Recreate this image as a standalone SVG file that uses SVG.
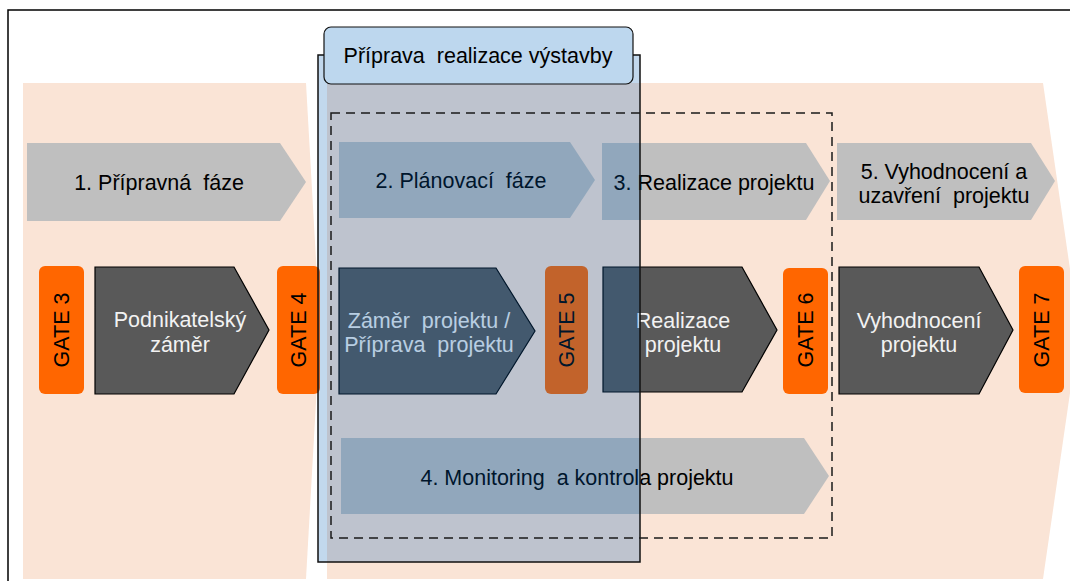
<svg xmlns="http://www.w3.org/2000/svg" width="1070" height="581" viewBox="0 0 1070 581">
<style>
text{font-family:"Liberation Sans",Arial,sans-serif;font-size:21.5px;text-anchor:middle;white-space:pre}
.phase{fill:#bfbfbf}
.gate{fill:#ff6600}
.step{fill:#595959;stroke:#000;stroke-width:1.2}
.dk{fill:#000}
.lt{fill:#f2f2f2}
</style>
<rect x="0" y="0" width="1070" height="581" fill="#fff"/>
<rect x="8" y="10" width="1080" height="600" fill="none" stroke="#000" stroke-width="1.5"/>
<g id="background">
<polygon points="23,83 306,83 320,331 306,579 23,579" fill="#fae4d6"/>
<polygon points="327,83 1043,83 1079,331 1043,579 327,579" fill="#fae4d6"/>
</g>
<g id="phase1"><polygon class="phase" points="27,143 280,143 306,182 280,221 27,221"/><text class="dk" x="159" y="190" xml:space="preserve">1. Přípravná  fáze</text></g>
<g id="phase2"><polygon class="phase" points="339,142 570,142 595,180 570,218 339,218"/><text class="dk" x="461" y="188" xml:space="preserve">2. Plánovací  fáze</text></g>
<g id="phase3"><polygon class="phase" points="602,143 806,143 830,181 806,220 602,220"/><text class="dk" x="714" y="190">3. Realizace projektu</text></g>
<g id="phase5"><polygon class="phase" points="837,143 1031,143 1055,181 1031,220 837,220"/><text class="dk" x="944" y="179">5. Vyhodnocení a</text><text class="dk" x="944" y="203" xml:space="preserve">uzavření  projektu</text></g>
<g id="phase4"><polygon class="phase" points="341,438 804,438 829,476 804,514 341,514"/><text class="dk" x="577" y="485" xml:space="preserve">4. Monitoring  a kontrola projektu</text></g>
<g id="gate3"><rect class="gate" x="39" y="266" width="45" height="128" rx="6"/><text class="dk" transform="translate(69,330) rotate(-90)">GATE 3</text></g>
<g id="gate4"><rect class="gate" x="277" y="266" width="43" height="128" rx="6"/><text class="dk" transform="translate(306,330) rotate(-90)">GATE 4</text></g>
<g id="gate5"><rect class="gate" x="545" y="266" width="43" height="128" rx="6"/><text class="dk" transform="translate(574,330) rotate(-90)">GATE 5</text></g>
<g id="gate6"><rect class="gate" x="783" y="268" width="45" height="126" rx="6"/><text class="dk" transform="translate(813,330) rotate(-90)">GATE 6</text></g>
<g id="gate7"><rect class="gate" x="1019" y="266" width="45" height="127" rx="6"/><text class="dk" transform="translate(1049,330) rotate(-90)">GATE 7</text></g>
<g id="step1"><polygon class="step" points="95,267 234,267 269,330 234,394 95,394"/><text class="lt" x="180" y="327">Podnikatelský</text><text class="lt" x="180" y="352">záměr</text></g>
<g id="step2"><polygon class="step" points="339,268 496,268 535,331 496,394 339,394"/><text class="lt" x="429" y="328" xml:space="preserve">Záměr  projektu /</text><text class="lt" x="429" y="352" xml:space="preserve">Příprava  projektu</text></g>
<g id="step3"><polygon class="step" points="603,267 742,267 777,330 742,392 603,392"/><text class="lt" x="683" y="328">Realizace</text><text class="lt" x="683" y="352">projektu</text></g>
<g id="step4"><polygon class="step" points="839,267 979,267 1013,330 979,394 839,394"/><text class="lt" x="919" y="328">Vyhodnocení</text><text class="lt" x="919" y="352">projektu</text></g>
<g id="container">
<rect x="318" y="55" width="322" height="507" fill="#005cb5" fill-opacity="0.24" stroke="#111" stroke-width="1.5"/>
</g>
<g id="scope"><rect x="331" y="113" width="501" height="425" fill="none" stroke="#1a1a1a" stroke-width="1.5" stroke-dasharray="9,6"/></g>
<g id="title"><rect x="324" y="27" width="309" height="57" rx="7" fill="#bdd7ee" stroke="#111" stroke-width="1.2"/><text class="dk" x="478" y="63" xml:space="preserve">Příprava  realizace výstavby</text></g>
</svg>
